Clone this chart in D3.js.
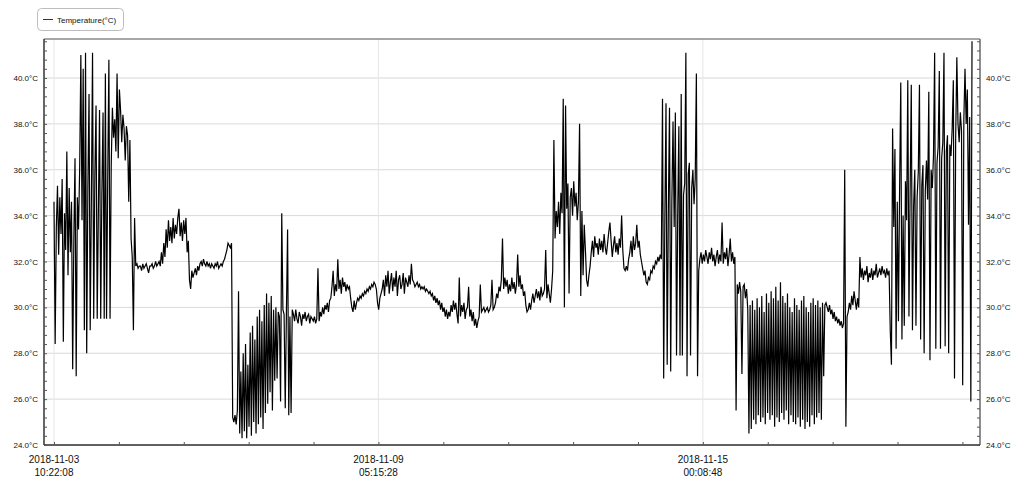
<!DOCTYPE html>
<html>
<head>
<meta charset="utf-8">
<script src="https://cdn.jsdelivr.net/npm/d3@7"></script>
<style>
body { margin: 0; background: #fff; }
svg { display: block; font-family: "Liberation Sans", Arial, sans-serif; }
</style>
</head>
<body>
<svg width="1024" height="485"></svg>
<script>
// sensor log, one reading every 30 minutes
const startTime = "2018-11-03T10:22:08Z";
const stepMinutes = 30;
const seriesName = "Temperature(°C)";

const temps = [
    // 11-03 .. 11-04 : hot, spiky
    34.6, 28.4, 33.5, 35.3, 32.3, 34.8, 33.2, 35.6, 28.5, 34.1, 32.5, 36.8, 31.4, 35.2, 32.4, 34.6, 27.3, 33.0, 36.5, 27.0, 34.8, 33.4, 36.1,
    41.0, 33.8, 40.4, 29.0, 41.1, 28.0, 35.2, 39.3, 29.0, 34.6, 41.1, 29.5, 35.8, 38.8, 29.5, 34.2, 38.6, 29.5, 35.0, 38.5, 29.5, 40.2, 29.5, 35.6, 40.8, 29.5,
    36.2, 38.7, 37.4, 38.2, 36.8, 40.2, 36.5, 39.5, 38.6, 37.2, 38.4, 37.8, 36.4, 37.9, 37.5,
    34.6, 37.3, 33.0, 32.2, 29.0, 33.9, 31.8,
    31.9, 31.7, 31.8, 31.8, 31.6, 31.9, 31.7, 31.8, 31.9, 31.7, 31.5, 31.8, 31.8, 31.9, 31.7, 31.8, 32.0, 31.8, 31.9, 32.0, 31.8,
    32.4, 31.9, 32.8, 32.2, 33.4, 32.6, 33.8, 32.9, 33.5, 32.8, 33.9, 33.0, 33.6, 33.2, 33.9, 34.3, 33.1, 33.7, 32.9, 33.8, 33.2,
    33.9, 32.4, 32.9, 31.2, 30.8, 31.6, 31.3,
    31.5, 31.7, 31.4, 31.8, 31.6, 31.9, 32.0, 31.8, 32.1, 31.9, 31.8, 32.0, 31.8, 31.9, 31.7, 31.9, 31.8, 31.7, 31.9, 31.8, 32.0, 31.7, 31.8, 31.9, 31.8, 32.0, 32.1, 32.3,
    32.5, 32.8, 32.7, 32.6, 32.8,
    // 11-06 : cold, noisy
    25.2, 25.0, 25.3, 24.9,
    25.5, 30.7, 24.5, 27.2, 24.3,
    28.0, 24.6, 28.4, 24.3, 27.5, 24.8, 28.9, 24.4, 29.2, 25.0, 28.6, 24.5, 29.6, 24.9, 29.9, 25.2, 29.4, 24.7, 30.1, 25.4,
    30.6, 25.8, 30.2, 26.3, 30.5, 25.5, 29.9, 26.8,
    30.0, 26.9, 29.8, 29.6, 25.9, 34.1, 29.9, 29.7, 25.6, 29.8, 33.4, 25.3, 29.6, 25.4, 29.9,
    // 11-07 .. 11-12 : calm
    29.7, 29.4, 29.9, 29.5, 29.3, 29.8, 29.6, 29.2, 29.7, 29.5, 29.8, 29.4, 29.6, 29.7, 29.3, 29.6, 29.5, 29.4, 29.6, 29.3,
    29.5, 31.7, 29.4, 29.8, 29.6, 30.0, 29.7, 30.1, 29.9, 30.2, 29.8, 30.3,
    30.4, 30.9, 31.6, 30.5, 31.0, 30.7, 32.1, 30.8, 31.2, 30.6, 31.3, 30.9, 31.1, 30.7, 31.0, 30.8, 30.9,
    30.4, 30.0, 29.8, 30.3, 29.9, 30.2, 30.4,
    30.3, 30.5, 30.4, 30.6, 30.5, 30.7, 30.6, 30.8, 30.7, 30.9, 30.8, 31.0, 30.9, 31.1, 31.0, 30.8,
    30.2, 29.9, 30.4, 30.6,
    30.8, 31.2, 30.5, 31.4, 30.9, 31.6, 30.6, 31.1, 31.5, 30.7, 31.3, 30.9, 31.6, 30.5, 31.2, 31.4, 30.8, 31.0, 31.5, 30.6, 31.3, 31.1, 30.9, 31.4, 31.0, 31.9, 31.2,
    31.1, 30.9, 31.0, 31.1, 30.9, 31.0, 30.8, 30.9, 30.8, 30.9, 30.7, 30.8, 30.7, 30.6, 30.7,
    30.5, 30.6, 30.3, 30.5, 30.2, 30.4, 30.1, 30.3, 29.9, 30.2, 29.8, 30.0, 29.6, 29.9, 29.5, 29.8, 29.6,
    30.1, 29.8, 30.3, 29.9, 30.2, 29.7, 29.3, 31.3, 29.6, 30.1, 29.8, 30.2, 29.5, 29.9, 30.0, 30.9, 29.6, 29.9, 29.4, 29.8, 29.2, 29.5, 29.1, 29.4,
    29.6, 31.0, 29.8, 29.9, 30.0, 29.8, 29.9, 30.0, 29.8, 29.9, 30.1, 31.2, 29.9, 30.0,
    30.2, 30.6, 30.4, 30.9, 30.7, 31.2, 33.0, 30.8, 31.3,
    30.9, 31.2, 30.6, 31.0, 30.7, 31.3, 30.8, 31.1, 30.6, 31.0, 32.3, 30.9, 31.4, 30.8, 31.0, 30.5, 30.7,
    30.1, 29.8, 29.9, 30.2, 29.9,
    30.3, 30.6, 30.2, 30.5, 30.8, 30.4, 30.7, 30.3, 30.9, 30.5, 30.6, 30.8, 32.5, 30.4, 31.0, 30.6, 30.2, 30.8,
    // 11-13 .. 11-15
    31.6, 37.3, 33.0, 34.2, 33.5, 34.6, 33.2, 35.0, 34.1, 39.1, 30.0, 38.8, 34.3, 35.4, 30.6, 34.8, 35.2, 34.0, 35.5, 34.4, 35.0, 33.8, 34.6, 38.0, 30.5, 34.2, 31.4, 33.6,
    32.5, 31.2, 30.9, 31.4, 31.8,
    32.4, 32.9, 32.2, 33.1, 32.6, 32.8, 32.3, 33.0, 32.5, 32.9, 32.4, 33.2, 32.6, 32.3, 32.8, 33.3, 33.7, 32.9, 32.2, 32.7, 33.1, 32.4, 32.8, 32.3, 33.0, 32.6,
    34.0, 32.5, 31.7, 31.6, 31.8, 31.6, 32.1,
    32.4, 32.9, 32.2, 33.1, 32.5, 32.8, 33.6, 32.6, 32.9, 32.3,
    32.0, 31.7, 31.4, 31.6, 31.1, 31.0,
    31.3, 31.2, 31.6, 31.5, 31.8, 31.7, 32.0, 31.9, 32.2, 32.0, 32.3, 32.1,
    39.1, 26.9, 33.8, 38.9, 27.5, 34.2, 38.7, 27.2, 34.6, 38.1, 33.5, 38.5, 27.9, 34.0, 37.9, 27.9, 39.3, 27.9, 34.9, 35.4, 41.1, 27.0, 35.8, 36.3, 27.9, 35.2, 36.0, 34.5, 35.6, 40.2, 27.0,
    31.6, 32.1, 32.4, 31.9, 32.3, 32.0, 32.5, 32.2, 31.9, 32.4, 32.1, 32.6, 32.0, 32.3, 31.8, 32.2, 32.5, 31.9, 32.3, 32.0, 33.7, 31.9, 32.4, 32.1, 32.6, 31.8, 32.3, 33.0, 32.0, 32.4, 31.9, 32.2,
    // 11-16 .. 11-18 : cold, noisy
    25.5, 31.0, 30.6, 31.1, 30.7, 27.1, 30.9, 31.0, 30.4, 30.8, 29.9,
    24.5, 30.1, 24.7, 30.3, 25.1, 29.9, 24.9, 30.4, 25.3, 30.0,
    25.0, 30.5, 25.2, 29.8, 24.9, 30.6, 25.4, 30.2, 25.1, 30.7,
    25.3, 30.4, 24.8, 30.9, 25.2, 30.3, 25.0, 31.1, 25.4, 30.5,
    25.1, 30.2, 25.5, 30.6, 24.9, 30.0, 25.3, 29.8, 25.0, 30.4,
    24.9, 30.1, 25.2, 29.9, 24.8, 30.3, 25.1, 30.5, 24.7, 30.0,
    25.0, 29.8, 24.8, 30.2, 25.3, 30.4, 24.9, 30.1, 25.2, 30.3,
    25.4, 30.0, 25.1, 30.2, 27.0, 30.1,
    30.2, 30.0, 29.8, 30.1, 29.7, 29.9, 29.5, 29.8, 29.4, 29.6, 29.3, 29.5,
    29.2, 29.4, 29.1, 29.3, 36.0, 24.8, 29.6,
    29.8, 30.2, 29.9, 30.5, 30.1, 30.7, 30.3, 29.9, 30.4, 30.0,
    32.2, 31.3, 31.7, 31.2, 31.6, 31.4, 31.8, 31.1, 31.5, 31.3, 31.7, 31.2, 31.6, 31.4, 31.9, 31.3, 31.5, 31.7, 31.4, 31.8, 31.5, 31.6, 31.3, 31.7, 31.4, 31.6,
    // 11-18 .. 11-19 : hot, spiky
    29.0, 27.5, 37.8,
    33.5, 36.9, 28.2, 34.6, 29.4, 35.2, 39.8, 28.6, 34.0, 29.2, 35.5, 33.8, 39.9, 29.6, 35.0, 39.7, 29.0, 34.4, 36.0, 29.2,
    34.8, 35.9, 39.7, 28.6, 35.3, 36.2, 28.0, 35.1, 36.4, 34.7, 39.4, 27.7, 36.0, 35.2, 36.6, 41.1, 28.2, 36.3, 37.0, 40.3,
    28.2, 36.5, 37.2, 41.1, 28.3, 36.8, 37.5, 28.0, 37.1, 36.6, 37.8, 39.9, 26.9, 37.4, 40.9, 38.0, 37.2, 38.5, 37.7, 26.6,
    38.2, 40.4, 38.0, 39.5, 33.6, 38.3, 25.9, 41.6
];

const yTicks = [24, 26, 28, 30, 32, 34, 36, 38, 40];
const yMinorStep = 0.4;
const xTickSeconds = 100000; // minor tick spacing, every 5th one labelled

let svg = d3.select("svg");
let plotLeft = 44, plotRight = 980, plotTop = 39, plotBottom = 445;

let t0 = new Date(startTime);
let data = temps.map(function(v, i) {
    return { t: new Date(+t0 + i * stepMinutes * 60000), v: v };
});
let tEnd = data[data.length - 1].t;

let x = d3.scaleUtc()
    .domain([new Date(+t0 - 15400e3), new Date(+tEnd + 12300e3)])
    .range([plotLeft, plotRight]);
let y = d3.scaleLinear()
    .domain([24, 41.7])
    .range([plotBottom, plotTop]);

let xMinor = d3.range(0, 15).map(function(k) { return new Date(+t0 + k * xTickSeconds * 1000); })
    .filter(function(d) { return d <= x.domain()[1]; });
let xMajor = xMinor.filter(function(d, k) { return k % 5 === 0; });
let yMinor = d3.range(0, 45).map(function(k) { return 24 + k * yMinorStep; })
    .filter(function(d) { return d <= 41.7; });

// grid
let grid = svg.append("g").attr("class", "grid");
grid.selectAll("line.h")
    .data(yTicks)
    .enter().append("line")
    .attr("class", "h")
    .attr("x1", plotLeft).attr("x2", plotRight)
    .attr("y1", function(d) { return y(d); })
    .attr("y2", function(d) { return y(d); })
    .attr("stroke", "#d9d9d9")
    .attr("stroke-width", 1);
grid.selectAll("line.v")
    .data(xMajor)
    .enter().append("line")
    .attr("class", "v")
    .attr("x1", function(d) { return x(d); })
    .attr("x2", function(d) { return x(d); })
    .attr("y1", plotTop).attr("y2", plotBottom)
    .attr("stroke", "#e6e6e6")
    .attr("stroke-width", 1);

// data line
let line = d3.line()
    .x(function(d) { return x(d.t); })
    .y(function(d) { return y(d.v); });

svg.append("path")
    .datum(data)
    .attr("fill", "none")
    .attr("stroke", "#000")
    .attr("stroke-width", 1.2)
    .attr("d", line);

// frame
svg.append("line").attr("x1", plotLeft).attr("x2", plotRight).attr("y1", plotTop).attr("y2", plotTop)
    .attr("stroke", "#8a8a8a").attr("stroke-width", 1.5);
svg.append("line").attr("x1", plotRight).attr("x2", plotRight).attr("y1", plotTop).attr("y2", plotBottom)
    .attr("stroke", "#6a6a6a").attr("stroke-width", 1.5);
svg.append("line").attr("x1", plotLeft).attr("x2", plotLeft).attr("y1", plotTop).attr("y2", plotBottom)
    .attr("stroke", "#333").attr("stroke-width", 1.5);
svg.append("line").attr("x1", plotLeft).attr("x2", plotRight).attr("y1", plotBottom).attr("y2", plotBottom)
    .attr("stroke", "#333").attr("stroke-width", 1.5);

// small inward ticks
function styleTicks(g) {
    g.select(".domain").remove();
    g.selectAll(".tick line").attr("stroke", "#555");
}
svg.append("g")
    .attr("transform", "translate(0," + plotBottom + ")")
    .call(d3.axisBottom(x).tickValues(xMinor).tickSize(-3).tickFormat(""))
    .call(styleTicks);
svg.append("g")
    .attr("transform", "translate(" + plotLeft + ",0)")
    .call(d3.axisLeft(y).tickValues(yMinor).tickSize(-3).tickFormat(""))
    .call(styleTicks);
svg.append("g")
    .attr("transform", "translate(" + plotRight + ",0)")
    .call(d3.axisRight(y).tickValues(yMinor).tickSize(-3).tickFormat(""))
    .call(styleTicks);

// y labels, both sides
let yFmt = function(d) { return d3.format(".1f")(d) + "°C"; };
function styleLabels(g) {
    g.select(".domain").remove();
    g.selectAll(".tick line").remove();
    g.selectAll(".tick text")
        .attr("font-family", "'Liberation Sans', Arial, sans-serif")
        .attr("font-size", 8)
        .attr("fill", "#111");
}
svg.append("g")
    .attr("transform", "translate(" + plotLeft + ",0)")
    .call(d3.axisLeft(y).tickValues(yTicks).tickSize(0).tickPadding(6).tickFormat(yFmt))
    .call(styleLabels);
svg.append("g")
    .attr("transform", "translate(" + plotRight + ",0)")
    .call(d3.axisRight(y).tickValues(yTicks).tickSize(0).tickPadding(6).tickFormat(yFmt))
    .call(styleLabels);

// x labels, date over time
let dateFmt = d3.utcFormat("%Y-%m-%d"),
    timeFmt = d3.utcFormat("%H:%M:%S");
let xLabels = svg.append("g")
    .selectAll("text")
    .data(xMajor)
    .enter().append("text")
    .attr("text-anchor", "middle")
    .attr("font-size", 10)
    .attr("fill", "#111");
xLabels.append("tspan")
    .attr("x", function(d) { return x(d); })
    .attr("y", 462.5)
    .text(function(d) { return dateFmt(d); });
xLabels.append("tspan")
    .attr("x", function(d) { return x(d); })
    .attr("y", 475.5)
    .text(function(d) { return timeFmt(d); });

// legend
let legend = svg.append("g").attr("class", "legend");
legend.append("rect")
    .attr("x", 37.5).attr("y", 8.5)
    .attr("width", 86).attr("height", 22)
    .attr("rx", 4)
    .attr("fill", "#fff")
    .attr("stroke", "#bdbdbd");
legend.append("line")
    .attr("x1", 43).attr("x2", 53)
    .attr("y1", 19.5).attr("y2", 19.5)
    .attr("stroke", "#333")
    .attr("stroke-width", 1);
legend.append("text")
    .attr("x", 57)
    .attr("y", 22.5)
    .attr("font-size", 8)
    .attr("fill", "#111")
    .text(seriesName);
</script>
</body>
</html>
